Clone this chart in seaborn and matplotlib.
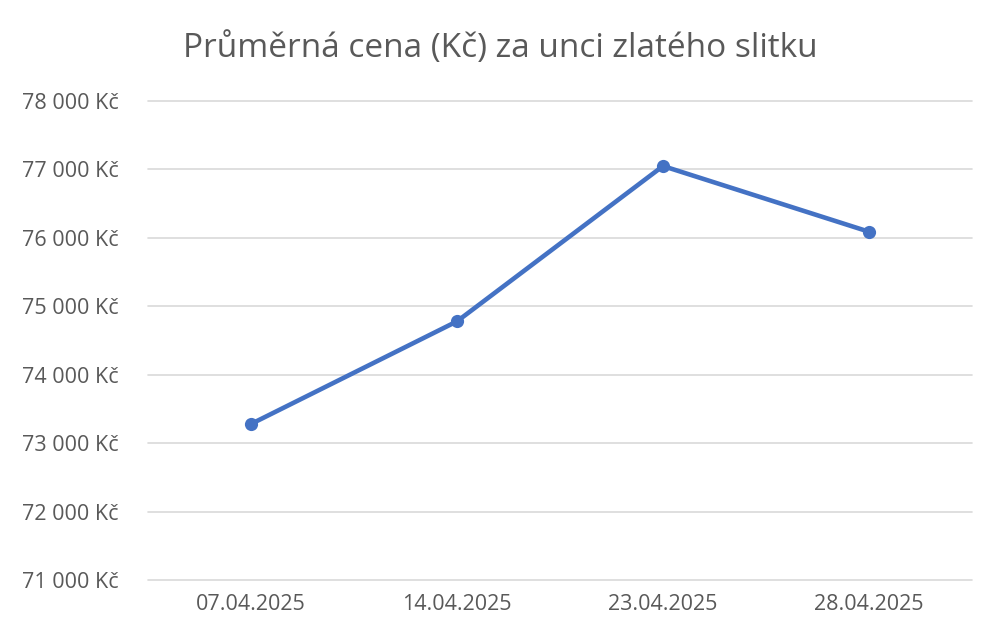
import pandas as pd
import matplotlib
matplotlib.use("Agg")
import matplotlib.pyplot as plt
import seaborn as sns
from matplotlib.ticker import FuncFormatter

# === DATA ===
datumy = ["07.04.2025", "14.04.2025", "23.04.2025", "28.04.2025"]
ceny = [73280, 74780, 77050, 76090]

df = pd.DataFrame({"Datum": datumy, "Cena": ceny})

sns.set_theme(style="white")
plt.rcParams['font.family'] = ['Open Sans', 'DejaVu Sans']

fig = plt.figure(figsize=(10, 6.44), dpi=100)
ax = fig.add_axes([0.148, 0.0994, 0.824, 0.7437])

sns.lineplot(data=df, x="Datum", y="Cena", ax=ax, color="#4472C4",
             linewidth=3.3, marker="o", markersize=9.5, markeredgewidth=0,
             sort=False)

ax.set_xlim(-0.5, 3.5)
ax.set_ylim(71000, 78000)
ax.set_yticks(range(71000, 78001, 1000))
ax.yaxis.set_major_formatter(FuncFormatter(lambda v, p: f"{int(v):,} Kč".replace(",", " ")))
ax.grid(axis="y", color="#D9D9D9", linewidth=1.2)
ax.set_axisbelow(True)
for l in ax.get_ygridlines():
    l.set_clip_on(False)
for s in ax.spines.values():
    s.set_visible(False)

ax.tick_params(axis="both", length=0, labelsize=15.5, colors="#595959")
ax.tick_params(axis="y", pad=21)
ax.tick_params(axis="x", pad=10)
ax.set_xlabel("")
ax.set_ylabel("")

fig.text(0.5, 1 - 57 / 644, "Průměrná cena (Kč) za unci zlatého slitku",
         ha="center", va="baseline", fontsize=24, color="#595959")

fig.savefig("out.png", dpi=100)
